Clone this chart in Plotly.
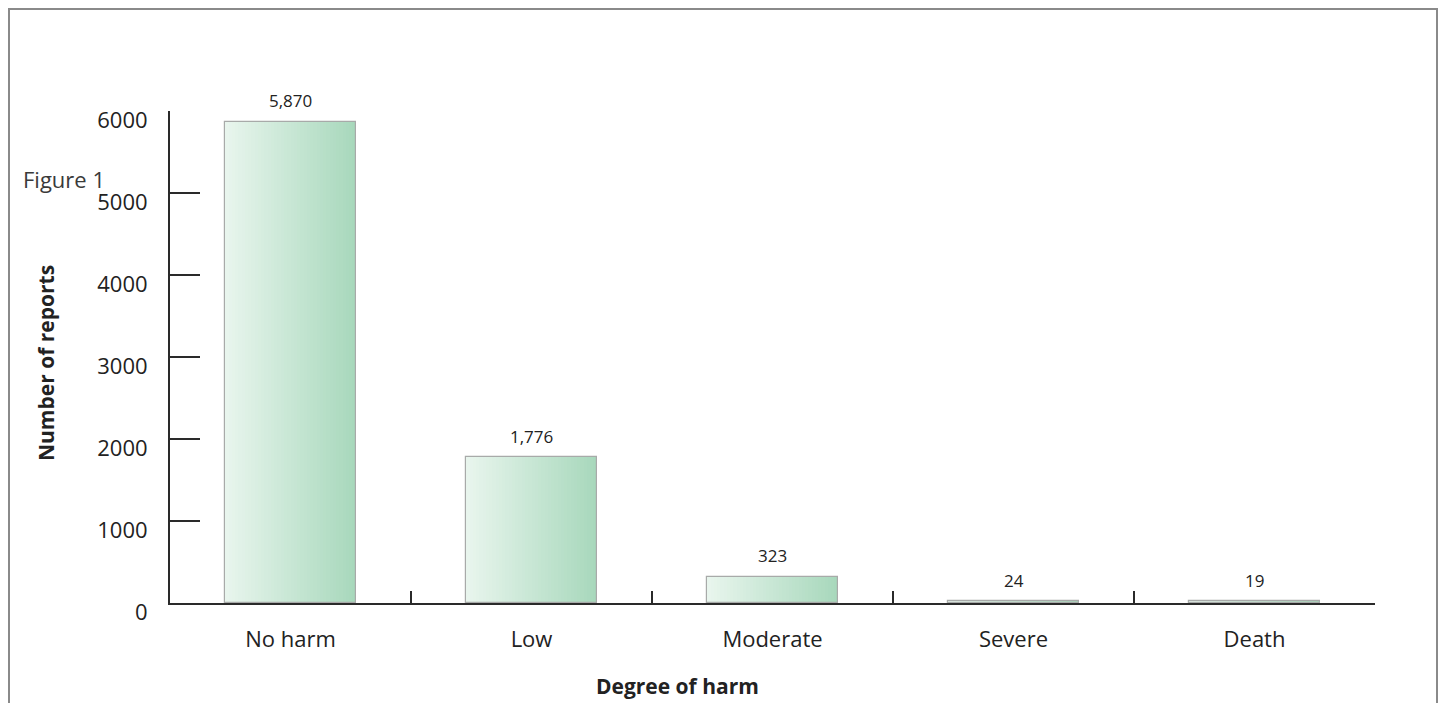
import plotly.graph_objects as go

# Reports by degree of harm
categories = ["No harm", "Low", "Moderate", "Severe", "Death"]
reports = [5870, 1776, 323, 24, 19]
value_labels = ["5,870", "1,776", "323", "24", "19"]
y_ticks = [0, 1000, 2000, 3000, 4000, 5000, 6000]

FONT = "Open Sans"
BAR_WIDTH = 0.54
N_SLICES = 40
LIGHT = (232, 245, 237)
DARK = (168, 216, 188)

# Plot area in pixels
L, R, T, B = 170, 67, 111, 100
W, H = 1442, 703
PW, PH = W - L - R, H - T - B


def px_x(px):
    return (px - L) / PW


def px_y(py):
    return (H - B - py) / PH


def mix(t):
    r, g, b = (round(a + (b_ - a) * t) for a, b_ in zip(LIGHT, DARK))
    return f"rgb({r},{g},{b})"


fig = go.Figure()

# Horizontal gradient fill: each bar is built from thin vertical slices
slice_w = BAR_WIDTH / N_SLICES
for i in range(N_SLICES):
    fig.add_trace(go.Bar(
        x=categories, y=reports,
        width=slice_w * 1.08,
        offset=-BAR_WIDTH / 2 + i * slice_w,
        marker=dict(color=mix(i / (N_SLICES - 1)), line=dict(width=0)),
        hoverinfo="skip", showlegend=False,
    ))

# Outline of each bar
fig.add_trace(go.Bar(
    x=categories, y=reports, width=BAR_WIDTH,
    marker=dict(color="rgba(0,0,0,0)", line=dict(color="#a8aaa9", width=1.2)),
    showlegend=False,
))

# Value labels above the bars
for c, v, t in zip(categories, reports, value_labels):
    fig.add_annotation(x=c, y=v, text=t, showarrow=False, yshift=21,
                       font=dict(family=FONT, size=17, color="#222"))

# Caption at the left edge
fig.add_annotation(xref="paper", yref="paper", x=px_x(21), y=px_y(179),
                   xanchor="left", yanchor="middle", text="Figure 1", showarrow=False,
                   font=dict(family=FONT, size=22, color="#3a3a3a"))

# Axis titles
fig.add_annotation(xref="paper", yref="paper", x=px_x(677), y=px_y(686),
                   xanchor="center", yanchor="middle", text="<b>Degree of harm</b>",
                   showarrow=False, font=dict(family=FONT, size=21, color="#222"))
fig.add_annotation(xref="paper", yref="paper", x=px_x(46), y=px_y(363),
                   xanchor="center", yanchor="middle", text="<b>Number of reports</b>",
                   textangle=-90, showarrow=False, font=dict(family=FONT, size=21, color="#222"))

# Open frame round the figure
fig.add_shape(type="rect", xref="paper", yref="paper",
              x0=px_x(9), x1=px_x(1437), y0=-0.4, y1=px_y(9),
              line=dict(color="#8a8a8a", width=2), layer="below")

fig.update_layout(
    width=W, height=H,
    margin=dict(l=L, r=R, t=T, b=B),
    paper_bgcolor="white", plot_bgcolor="white",
    barmode="overlay", bargap=0,
    font=dict(family=FONT, color="#222"),
    xaxis=dict(
        range=[-0.5, 4.5], showline=True, linecolor="#2a2a2a", linewidth=2,
        ticks="inside", tickson="boundaries", ticklen=12, tickwidth=1.5, tickcolor="#2a2a2a",
        tickfont=dict(family=FONT, size=22, color="#222"),
        ticklabelstandoff=16,
        showgrid=False, zeroline=False, fixedrange=True,
    ),
    yaxis=dict(
        range=[0, 6000], tickvals=y_ticks, showline=True, linecolor="#2a2a2a", linewidth=2,
        ticks="inside", ticklen=30, tickwidth=1.5, tickcolor="#2a2a2a",
        tickfont=dict(family=FONT, size=22, color="#222"),
        ticklabelstandoff=16, ticklabelshift=9,
        showgrid=False, zeroline=False, fixedrange=True,
    ),
)

fig.write_html("out.html")
